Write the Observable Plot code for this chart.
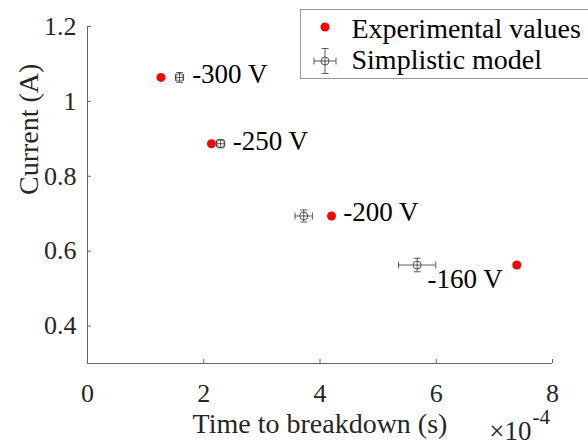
<!DOCTYPE html>
<html><head><meta charset="utf-8">
<script src="https://cdn.jsdelivr.net/npm/d3@7"></script>
<script src="https://cdn.jsdelivr.net/npm/@observablehq/plot@0.6"></script>
<style>
body{margin:0;background:#fff;}
#wrap{position:relative;width:588px;height:444px;overflow:hidden;}
#overlay{position:absolute;left:0;top:0;pointer-events:none;}
</style></head><body><div id="wrap"></div>
<script>
// Data (time in units of 1e-4 s, current in A)
const voltages = ["-300 V", "-250 V", "-200 V", "-160 V"];
const expTime = [1.264, 2.133, 4.198, 7.386];
const current = [1.064, 0.887, 0.694, 0.563];
const modelTime = [1.583, 2.29, 3.72, 5.672];
const modelTimeErr = [0.07, 0.07, 0.15, 0.32];
const modelCurrentErr = [0.013, 0.011, 0.016, 0.018];
const labelTime = [1.8, 2.5, 4.4, 5.85];
const labelCurrent = [1.072, 0.893, 0.703, 0.524];
const xTicks = [0, 2, 4, 6, 8];
const yTicks = [0.4, 0.6, 0.8, 1, 1.2];
const legendLabels = ["Experimental values", "Simplistic model"];
const xLabel = "Time to breakdown (s)";
const yLabel = "Current (A)";

const rows = voltages.map((v, i) => ({
  v, et: expTime[i], c: current[i], mt: modelTime[i],
  xe: modelTimeErr[i], ye: modelCurrentErr[i],
  lt: labelTime[i], lc: labelCurrent[i]
}));

const capV = {draw(ctx, size) { const r = Math.sqrt(size / Math.PI); ctx.moveTo(0, -r); ctx.lineTo(0, r); }};
const capH = {draw(ctx, size) { const r = Math.sqrt(size / Math.PI); ctx.moveTo(-r, 0); ctx.lineTo(r, 0); }};
const ink = "#333";
const axisInk = "#666";
const ff = "Liberation Serif";

const chart = Plot.plot({
  width: 588, height: 444,
  marginLeft: 87, marginRight: 36, marginTop: 26, marginBottom: 81,
  style: {fontFamily: "'Liberation Serif'", fontSize: "26px", background: "transparent", overflow: "visible"},
  x: {domain: [0, 8]},
  y: {domain: [0.3, 1.2]},
  marks: [
    Plot.ruleX([0], {stroke: axisInk}),
    Plot.ruleY([0.3], {stroke: axisInk}),
    Plot.axisX({ticks: xTicks, tickSize: -4, stroke: axisInk, tickFormat: () => "", label: null}),
    Plot.axisY({ticks: yTicks, tickSize: -4, stroke: axisInk, tickFormat: () => "", label: null}),
    Plot.axisX({ticks: xTicks, tickSize: 0, tickPadding: 20, fontSize: 26, fontFamily: ff, fill: "#262626", tickFormat: d => String(d), label: null}),
    Plot.axisY({ticks: yTicks, tickSize: 0, tickPadding: 11, fontSize: 26, fontFamily: ff, fill: "#262626", tickFormat: d => String(d), label: null}),
    Plot.text([xLabel], {frameAnchor: "bottom", lineAnchor: "bottom", dy: 69, fontSize: 28, fontFamily: ff, fill: "#262626"}),
    Plot.text([yLabel], {frameAnchor: "left", lineAnchor: "bottom", rotate: -90, dx: -50, fontSize: 28, fontFamily: ff, fill: "#262626"}),
    Plot.text(["×10"], {frameAnchor: "bottom-right", lineAnchor: "bottom", textAnchor: "end", dx: -21, dy: 76, fontSize: 27, fontFamily: ff, fill: "#262626"}),
    Plot.text(["-4"], {frameAnchor: "bottom-right", lineAnchor: "bottom", textAnchor: "start", dx: -20, dy: 60, fontSize: 21, fontFamily: ff, fill: "#262626"}),
    // legend text (box and symbols drawn in the overlay)
    Plot.text(legendLabels.slice(0, 1), {frameAnchor: "top-left", lineAnchor: "bottom", textAnchor: "start", dx: 264, dy: 11, fontSize: 28, fontFamily: ff, fill: "#000"}),
    Plot.text(legendLabels.slice(1), {frameAnchor: "top-left", lineAnchor: "bottom", textAnchor: "start", dx: 264, dy: 42, fontSize: 28, fontFamily: ff, fill: "#000"}),
    // model error bars
    Plot.ruleY(rows, {y: "c", x1: d => d.mt - d.xe, x2: d => d.mt + d.xe, stroke: ink, strokeWidth: 0.8}),
    Plot.ruleX(rows, {x: "mt", y1: d => d.c - d.ye, y2: d => d.c + d.ye, stroke: ink, strokeWidth: 0.8}),
    Plot.dot(rows, {x: d => d.mt - d.xe, y: "c", symbol: capV, r: 3.5, stroke: ink, fill: "none", strokeWidth: 0.8}),
    Plot.dot(rows, {x: d => d.mt + d.xe, y: "c", symbol: capV, r: 3.5, stroke: ink, fill: "none", strokeWidth: 0.8}),
    Plot.dot(rows, {x: "mt", y: d => d.c - d.ye, symbol: capH, r: 3.5, stroke: ink, fill: "none", strokeWidth: 0.8}),
    Plot.dot(rows, {x: "mt", y: d => d.c + d.ye, symbol: capH, r: 3.5, stroke: ink, fill: "none", strokeWidth: 0.8}),
    Plot.dot(rows, {x: "mt", y: "c", r: 4, stroke: ink, fill: "none", strokeWidth: 0.8}),
    // experimental
    Plot.dot(rows, {x: "et", y: "c", r: 4.5, fill: "#ff0000", stroke: "none"}),
    // voltage labels
    Plot.text(rows, {x: "lt", y: "lc", text: "v", textAnchor: "start", fontSize: 27, fontFamily: ff, fill: "#000"})
  ]
});
const wrap = document.getElementById("wrap");
wrap.appendChild(chart);

// Legend box and symbols overlay
const svg = d3.select(wrap).append("svg").attr("id", "overlay").attr("width", 588).attr("height", 444);
const lg = svg.append("g");
lg.append("rect").attr("x", 300.5).attr("y", 9.5).attr("width", 300).attr("height", 69).attr("fill", "none").attr("stroke", "#999");
lg.append("circle").attr("cx", 325).attr("cy", 27).attr("r", 4.5).attr("fill", "#ff0000");
const m = lg.append("g").attr("transform", "translate(325,61)").attr("stroke", ink).attr("stroke-width", 0.8).attr("fill", "none");
m.append("path").attr("d", "M-11,0H11M-11,-3.5V3.5M11,-3.5V3.5M0,-12.5V12.5M-3.5,-12.5H3.5M-3.5,12.5H3.5");
m.append("circle").attr("r", 4);
</script></body></html>
